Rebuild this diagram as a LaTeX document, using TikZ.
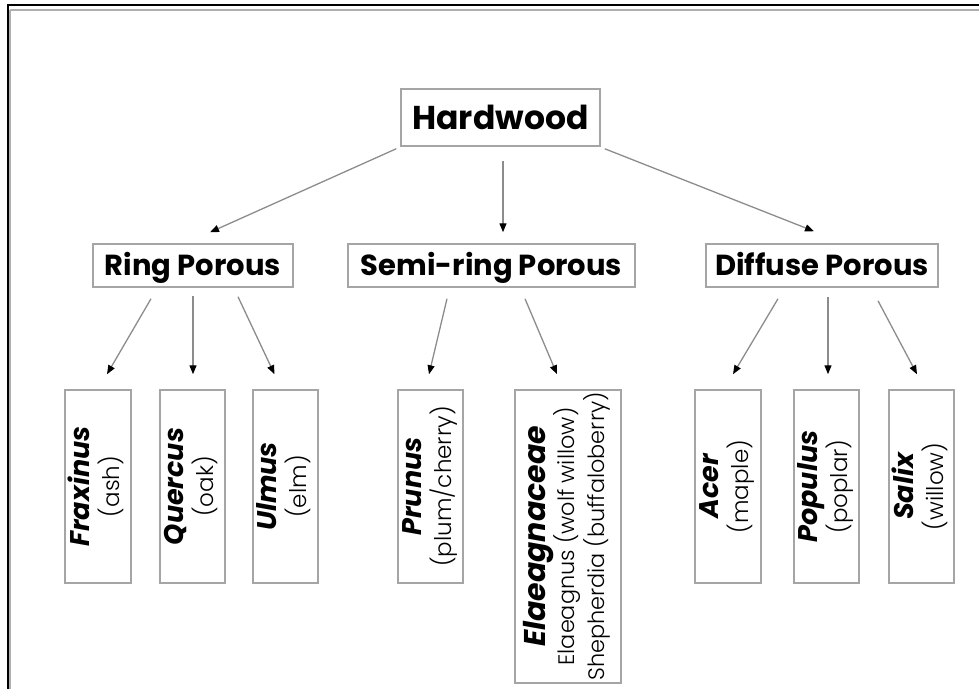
\documentclass[tikz,border=0pt]{standalone}
\usepackage{fontspec}
\usepackage{graphicx}
\setmainfont{Poppins}
\newfontfamily\lightfont{Poppins Light}
\usetikzlibrary{arrows.meta}
\definecolor{boxgray}{RGB}{165,165,165}
\definecolor{linegray}{RGB}{140,140,140}
\definecolor{framegray}{RGB}{175,175,175}
\tikzset{
  box/.style={draw=boxgray, line width=1.5pt, inner sep=0pt, anchor=center},
  conn/.style={draw=linegray, line width=1.3pt, -{Triangle[length=9pt,width=7pt,black]}},
  hwtext/.style={font=\fontsize{33}{38}\selectfont\bfseries, text height=23pt, text depth=0pt},
  cattext/.style={font=\fontsize{29}{33}\selectfont\bfseries, text height=20.3pt, text depth=0pt},
}
\newcommand{\leaftext}[2]{\rotatebox{90}{\fontsize{23}{28}\selectfont\begin{tabular}{@{}c@{}}{\fontsize{27}{28}\selectfont\bfseries\itshape #1}\\ {\lightfont #2}\end{tabular}}}
\begin{document}
\begin{tikzpicture}[x=1pt,y=-1pt]
\useasboundingbox (0,0) rectangle (979,689);
% frame
\draw[black, line width=2pt] (7,5) -- (979,5);
\draw[black, line width=2pt] (8,5) -- (8,689);
\draw[framegray, line width=2pt] (10,10) -- (979,10);
\draw[framegray, line width=2pt] (10,10) -- (10,689);
% top
\node[box, hwtext, minimum width=199pt, minimum height=57pt] (hw) at (500.5,117.5) {Hardwood};
% categories
\node[box, cattext, minimum width=200pt, minimum height=43pt] (rp) at (193,265.5) {Ring Porous};
\node[box, cattext, minimum width=287pt, minimum height=43pt] (sr) at (491.5,265.5) {Semi-ring Porous};
\node[box, cattext, minimum width=232pt, minimum height=43pt] (df) at (822,265.5) {Diffuse Porous};
% leaves
\node[box, minimum width=66pt, minimum height=193pt] (frax) at (98,486.5) {\leaftext{Fraxinus}{(ash)}};
\node[box, minimum width=65pt, minimum height=193pt] (quer) at (192.5,486.5) {\leaftext{Quercus}{(oak)}};
\node[box, minimum width=65pt, minimum height=193pt] (ulm) at (285.5,486.5) {\leaftext{Ulmus}{(elm)}};
\node[box, minimum width=65pt, minimum height=193pt] (prun) at (430.5,486.5) {\leaftext{Prunus}{(plum/cherry)}};
\node[box, minimum width=106pt, minimum height=293pt] (elae) at (568,536.5) {\rotatebox{90}{\fontsize{22.4}{28}\selectfont\begin{tabular}{@{}c@{}}{\fontsize{30}{28}\selectfont\bfseries\itshape Elaeagnaceae}\\ {\lightfont Elaeagnus (wolf willow)}\\ {\lightfont Shepherdia (buffaloberry)}\end{tabular}}};
\node[box, minimum width=66pt, minimum height=193pt] (acer) at (728,486.5) {\leaftext{Acer}{(maple)}};
\node[box, minimum width=65pt, minimum height=193pt] (pop) at (826.5,486.5) {\leaftext{Populus}{(poplar)}};
\node[box, minimum width=65pt, minimum height=193pt] (sal) at (921.5,486.5) {\leaftext{Salix}{(willow)}};
% connectors
\draw[conn] ([shift={(-4,2)}]hw.south west) -- ([shift={(17,-11)}]rp.north);
\draw[conn] ([shift={(2.5,14)}]hw.south) -- ([shift={(11.5,-11)}]sr.north);
\draw[conn] ([shift={(4,2)}]hw.south east) -- ([shift={(-8,-12)}]df.north);
\draw[conn] ([shift={(-42,11)}]rp.south) -- ([shift={(9,-15)}]frax.north);
\draw[conn] ([shift={(0,8)}]rp.south) -- ([shift={(0.5,-15)}]quer.north);
\draw[conn] ([shift={(45,9)}]rp.south) -- ([shift={(-11,-15)}]ulm.north);
\draw[conn] ([shift={(-44.5,11)}]sr.south) -- ([shift={(-1.5,-15)}]prun.north);
\draw[conn] ([shift={(33.5,11)}]sr.south) -- ([shift={(-11,-15)}]elae.north);
\draw[conn] ([shift={(-44,11)}]df.south) -- ([shift={(5,-15)}]acer.north);
\draw[conn] ([shift={(6,9)}]df.south) -- ([shift={(1.5,-15)}]pop.north);
\draw[conn] ([shift={(56,13)}]df.south) -- ([shift={(-4.5,-15)}]sal.north);
\end{tikzpicture}
\end{document}
